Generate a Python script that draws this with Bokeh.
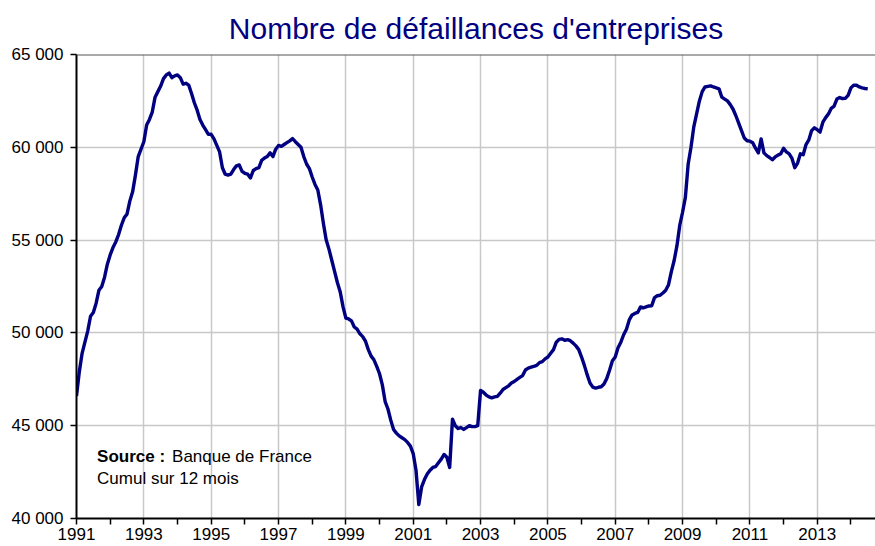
from bokeh.plotting import figure
from bokeh.models import FixedTicker, Label, Range1d, ColumnDataSource, Span
from bokeh.embed import file_html
from bokeh.resources import INLINE

# ---------------- data (monthly, 12-month rolling sum) ----------------
START_YEAR = 1991
v1991 = [46600, 47900, 48900, 49500, 50100, 50900, 51100, 51600, 52300, 52500, 53000, 53700]
v1992 = [54200, 54600, 54900, 55300, 55800, 56200, 56400, 57100, 57600, 58500, 59500, 59900]
v1993 = [60300, 61200, 61500, 61900, 62700, 63000, 63300, 63700, 63900, 64000, 63750, 63850]
v1994 = [63900, 63750, 63400, 63450, 63350, 62900, 62400, 62000, 61500, 61200, 60950, 60700]
v1995 = [60700, 60450, 60100, 59750, 58900, 58550, 58500, 58550, 58800, 59000, 59050, 58700]
v1996 = [58600, 58550, 58350, 58750, 58850, 58900, 59300, 59420, 59500, 59700, 59500, 59900]
v1997 = [60100, 60050, 60150, 60250, 60350, 60470, 60300, 60150, 60000, 59500, 59100, 58850]
v1998 = [58400, 58000, 57700, 56900, 55900, 55000, 54500, 53900, 53300, 52700, 52200, 51400]
v1999 = [50800, 50750, 50650, 50320, 50200, 49950, 49800, 49550, 49100, 48750, 48550, 48200]
v2000 = [47800, 47200, 46300, 45900, 45300, 44800, 44600, 44450, 44350, 44250, 44100, 43900]
v2001 = [43500, 42600, 40750, 41700, 42100, 42400, 42600, 42750, 42800, 43000, 43200, 43450]
v2002 = [43300, 42750, 45350, 45000, 44850, 44900, 44800, 44900, 45000, 44950, 44950, 45000]
v2003 = [46900, 46800, 46650, 46550, 46500, 46550, 46580, 46750, 46950, 47050, 47150, 47300]
v2004 = [47380, 47500, 47600, 47700, 48000, 48100, 48150, 48200, 48250, 48400, 48450, 48600]
v2005 = [48700, 48900, 49100, 49500, 49650, 49680, 49600, 49640, 49580, 49450, 49300, 49100]
v2006 = [48700, 48250, 47750, 47300, 47080, 47030, 47070, 47100, 47250, 47550, 48000, 48500]
v2007 = [48700, 49200, 49500, 49900, 50200, 50700, 50970, 51050, 51100, 51400, 51350, 51400]
v2008 = [51450, 51460, 51900, 52000, 52030, 52150, 52300, 52600, 53300, 53900, 54700, 55800]
v2009 = [56500, 57300, 59100, 60000, 61100, 61800, 62500, 63000, 63250, 63280, 63310, 63250]
v2010 = [63200, 63150, 62700, 62600, 62500, 62300, 62050, 61700, 61300, 60900, 60500, 60350]
v2011 = [60330, 60250, 59950, 59700, 60450, 59700, 59550, 59450, 59330, 59480, 59580, 59650]
v2012 = [59950, 59750, 59650, 59400, 58900, 59150, 59650, 59600, 60150, 60400, 60900, 61050]
v2013 = [60950, 60820, 61350, 61600, 61800, 62100, 62220, 62600, 62680, 62620, 62640, 62800]
v2014 = [63200, 63350, 63340, 63250, 63200, 63170, 63150]

x_major_ticks = [1991, 1993, 1995, 1997, 1999, 2001, 2003, 2005, 2007, 2009, 2011, 2013]
x_minor_ticks = [1992, 1994, 1996, 1998, 2000, 2002, 2004, 2006, 2008, 2010, 2012, 2014]
y_ticks = [40000, 45000, 50000, 55000, 60000, 65000]
y_tick_labels = ["40 000", "45 000", "50 000", "55 000", "60 000", "65 000"]

title_text = "Nombre de défaillances d'entreprises"
source_bold = "Source :"
source_text = "Banque de France"
note_text = "Cumul sur 12 mois"

# ---------------- build ----------------
values = (v1991 + v1992 + v1993 + v1994 + v1995 + v1996 + v1997 + v1998 + v1999 +
          v2000 + v2001 + v2002 + v2003 + v2004 + v2005 + v2006 + v2007 + v2008 +
          v2009 + v2010 + v2011 + v2012 + v2013 + v2014)
dates = [START_YEAR + i / 12.0 for i in range(len(values))]
src = ColumnDataSource(data=dict(x=dates, y=values))

FONT = "Liberation Sans"
NAVY = "#000080"
X0, X1 = 1991, 2014.73
Y0, Y1 = 40000, 65000

p = figure(width=875, height=546, output_backend="svg", toolbar_location=None,
           x_range=Range1d(X0, X1), y_range=Range1d(Y0, Y1),
           min_border_left=76, min_border_right=0, min_border_top=0, min_border_bottom=28,
           background_fill_color="white", border_fill_color="white",
           outline_line_color=None)

p.title.text = title_text
p.title.text_font = FONT
p.title.text_font_size = "30px"
p.title.text_font_style = "normal"
p.title.text_color = NAVY
p.title.align = "center"
p.title.standoff = 19

# axes
xa = p.xaxis[0]
xa.ticker = FixedTicker(ticks=x_major_ticks, minor_ticks=x_minor_ticks)
xa.major_label_overrides = {t: str(t) for t in x_major_ticks}
ya = p.yaxis[0]
ya.ticker = FixedTicker(ticks=y_ticks, minor_ticks=[])
ya.major_label_overrides = {t: l for t, l in zip(y_ticks, y_tick_labels)}

for ax in (xa, ya):
    ax.axis_line_color = "black"
    ax.axis_line_width = 2
    ax.major_tick_line_color = "black"
    ax.major_tick_line_width = 1.5
    ax.major_tick_in = 0
    ax.major_tick_out = 6
    ax.major_label_text_font = FONT
    ax.major_label_text_font_size = "17px"
    ax.major_label_text_color = "black"
xa.minor_tick_line_color = "black"
xa.minor_tick_line_width = 1.5
xa.minor_tick_in = 0
xa.minor_tick_out = 6
xa.major_label_standoff = 3
ya.minor_tick_line_color = None
ya.major_label_standoff = 7

p.xgrid.grid_line_color = "#c8c8c8"
p.xgrid.grid_line_width = 1.5
p.ygrid.grid_line_color = "#c8c8c8"
p.ygrid.grid_line_width = 1.5

# top border of the plot area
p.add_layout(Span(location=Y1, dimension="width", line_color="#555555", line_width=2))

p.line("x", "y", source=src, line_color=NAVY, line_width=3.4, line_join="round")

# annotation
p.add_layout(Label(x=1991.61, y=42850, text=source_bold, text_font=FONT,
                   text_font_size="17px", text_font_style="bold", text_color="black"))
p.add_layout(Label(x=1991.61, y=42850, x_offset=75, text=source_text, text_font=FONT,
                   text_font_size="17px", text_color="black"))
p.add_layout(Label(x=1991.61, y=41650, text=note_text, text_font=FONT,
                   text_font_size="17px", text_color="black"))

open("out.html", "w").write(file_html(p, INLINE))
